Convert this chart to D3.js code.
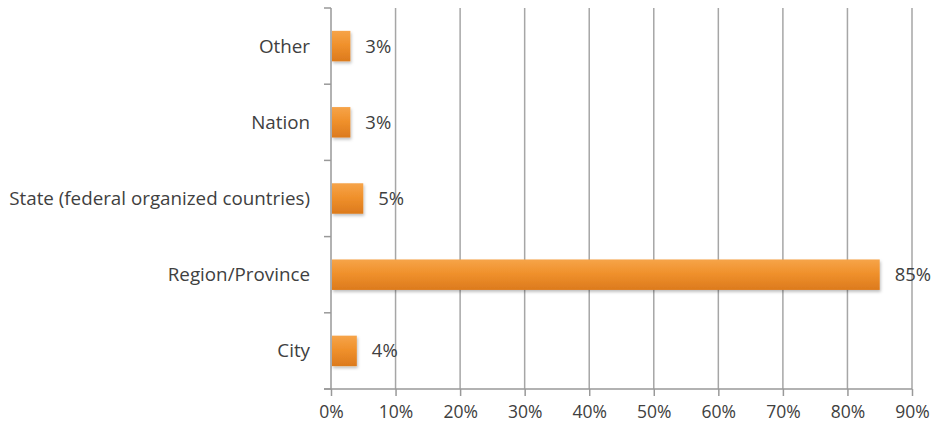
<!DOCTYPE html>
<html>
<head>
<meta charset="utf-8">
<script src="https://cdn.jsdelivr.net/npm/d3@7"></script>
<style>
  html, body { margin: 0; padding: 0; background: #fff; }
  svg text { font-family: "Open Sans", "Noto Sans", sans-serif; fill: #404040; }
</style>
</head>
<body>
<svg id="chart" width="943" height="433"></svg>
<script>
// Share of respondents by level of government
const categories = ["Other", "Nation", "State (federal organized countries)", "Region/Province", "City"];
const values = [3, 3, 5, 85, 4];
const tickValues = [0, 10, 20, 30, 40, 50, 60, 70, 80, 90];

const svg = d3.select("#chart");
const margin = { top: 8, right: 31, bottom: 44, left: 331 };
const width = 943 - margin.left - margin.right;
const height = 433 - margin.top - margin.bottom;

const g = svg.append("g").attr("transform", `translate(${margin.left},${margin.top})`);

const x = d3.scaleLinear().domain([0, 90]).range([0, width]);
const y = d3.scaleBand().domain(categories).range([0, height]).paddingInner(0.6).paddingOuter(0.3);

const defs = svg.append("defs");
const grad = defs.append("linearGradient").attr("id", "barFill").attr("x1", 0).attr("y1", 0).attr("x2", 0).attr("y2", 1);
grad.append("stop").attr("offset", "0%").attr("stop-color", "#f6a449");
grad.append("stop").attr("offset", "45%").attr("stop-color", "#f0912c");
grad.append("stop").attr("offset", "100%").attr("stop-color", "#dc7a1d");
const shadow = defs.append("filter").attr("id", "barShadow").attr("x", "-10%").attr("y", "-20%").attr("width", "130%").attr("height", "160%");
shadow.append("feDropShadow").attr("dx", 1).attr("dy", 2).attr("stdDeviation", 1.5).attr("flood-color", "#000").attr("flood-opacity", 0.25);

// vertical gridlines
g.append("g")
  .selectAll("line")
  .data(tickValues.slice(1))
  .join("line")
  .attr("x1", d => x(d)).attr("x2", d => x(d))
  .attr("y1", 0).attr("y2", height)
  .attr("stroke", "#a6a6a6").attr("stroke-width", 1.5);

// bottom axis
const xAxis = g.append("g")
  .attr("transform", `translate(0,${height})`)
  .call(d3.axisBottom(x).tickValues(tickValues).tickFormat(d => d + "%").tickSize(7).tickSizeOuter(0).tickPadding(10));
xAxis.select(".domain").attr("stroke", "#999").attr("stroke-width", 1.5).attr("d", `M-7,0H${width}`);
xAxis.selectAll(".tick line").attr("stroke", "#999").attr("stroke-width", 1.5);
xAxis.selectAll("text").style("font-size", "17.5px").attr("fill", "#404040");

// left axis with tick marks between categories
const yAxis = g.append("g");
yAxis.append("line").attr("x1", 0).attr("x2", 0).attr("y1", 0).attr("y2", height)
  .attr("stroke", "#999").attr("stroke-width", 1.5);
const boundaries = categories.map(c => y(c) - y.step() * y.paddingInner() / 2);
boundaries.push(height);
yAxis.selectAll("line.tick")
  .data(boundaries)
  .join("line")
  .attr("class", "tick")
  .attr("x1", -7).attr("x2", 0)
  .attr("y1", d => d).attr("y2", d => d)
  .attr("stroke", "#999").attr("stroke-width", 1.5);
yAxis.selectAll("text")
  .data(categories)
  .join("text")
  .attr("x", -21)
  .attr("y", d => y(d) + y.bandwidth() / 2)
  .attr("dy", "0.35em")
  .attr("text-anchor", "end")
  .style("font-size", "18.8px")
  .text(d => d);

// bars
const rows = categories.map((c, i) => ({ c, v: values[i] }));
g.append("g")
  .selectAll("rect")
  .data(rows)
  .join("rect")
  .attr("x", 1)
  .attr("y", d => y(d.c))
  .attr("width", d => x(d.v) - 1)
  .attr("height", y.bandwidth())
  .attr("fill", "url(#barFill)")
  .attr("filter", "url(#barShadow)");

// value labels
g.append("g")
  .selectAll("text")
  .data(rows)
  .join("text")
  .attr("x", d => x(d.v) + 15)
  .attr("y", d => y(d.c) + y.bandwidth() / 2)
  .attr("dy", "0.35em")
  .style("font-size", "18.5px")
  .text(d => d.v + "%");
</script>
</body>
</html>
